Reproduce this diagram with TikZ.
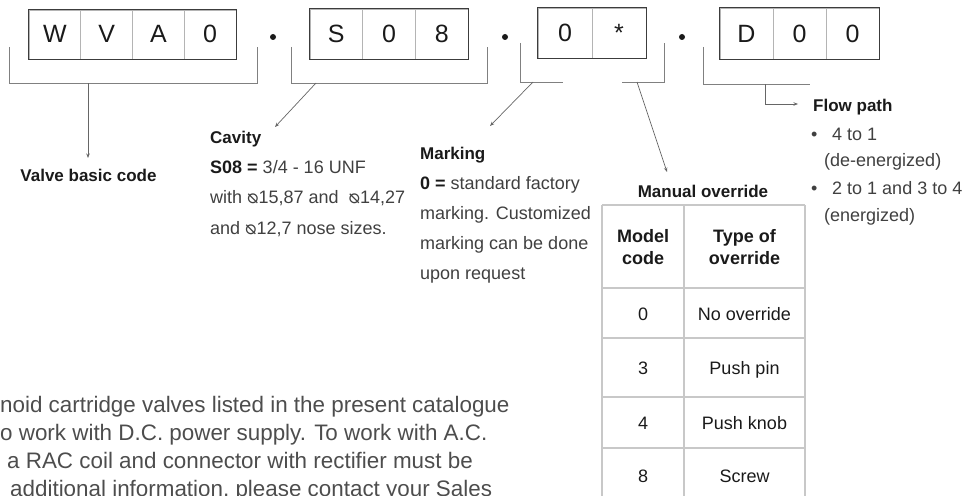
\documentclass[tikz,border=0pt]{standalone}
\usepackage{fontspec}
\usepackage{graphicx}
\setmainfont{Liberation Sans}
\newfontfamily\symf{DejaVu Sans}
\usetikzlibrary{arrows.meta}
\definecolor{ink}{HTML}{1A1A1A}
\definecolor{bodyc}{HTML}{404040}
\definecolor{divg}{HTML}{B4B4B4}
\definecolor{brk}{HTML}{808080}
\definecolor{tbl}{HTML}{C8C8C8}
\definecolor{parac}{HTML}{4D4D4D}
\newcommand{\dia}{{\symf\scalebox{-1.05}[1.05]{⌀}}}
\tikzset{
  cell/.style={rectangle, draw=divg, line width=0.8pt, inner sep=0pt,
    text height=17pt, text depth=0pt, font=\fontsize{25}{25}\selectfont, text=ink},
  boxborder/.style={draw=ink!85, line width=1.4pt},
  bracket/.style={draw=brk, line width=0.9pt},
  pointer/.style={draw=brk!80!black, line width=0.7pt, -{Stealth[length=4.5pt,width=3.5pt]}},
  head/.style={font=\fontsize{17}{17}\selectfont\bfseries, text=ink, inner sep=0pt, anchor=base west},
  txt/.style={font=\fontsize{18}{18}\selectfont, text=bodyc, inner sep=0pt, anchor=base west},
  tcell/.style={font=\fontsize{18}{18}\selectfont, text=ink, inner sep=0pt, anchor=base},
  thead/.style={font=\fontsize{18}{18}\selectfont\bfseries, text=ink, inner sep=0pt, anchor=base},
  ptxt/.style={font=\fontsize{22.4}{22.4}\selectfont, text=parac, inner sep=0pt, anchor=base west},
  dotmark/.style={circle, fill=ink, inner sep=0pt, minimum size=6pt},
  tline/.style={draw=tbl, line width=1.3pt}
}
\begin{document}
\begin{tikzpicture}[x=1pt,y=-1pt]
\useasboundingbox (0,0) rectangle (965,495);

% ---- code boxes ----
\begin{scope}[every node/.append style={minimum width=51.75pt, minimum height=49pt}]
\node[cell] (c11) at (54.9,34.5) {W};
\node[cell] (c12) at (106.6,34.5) {V};
\node[cell] (c13) at (158.4,34.5) {A};
\node[cell] (c14) at (210.1,34.5) {0};
\end{scope}
\draw[boxborder] (c11.north west) rectangle (c14.south east);

\begin{scope}[every node/.append style={minimum width=52.67pt, minimum height=50pt}]
\node[cell] (c21) at (336.3,34) {S};
\node[cell] (c22) at (389,34) {0};
\node[cell] (c23) at (441.7,34) {8};
\end{scope}
\draw[boxborder] (c21.north west) rectangle (c23.south east);

\begin{scope}[every node/.append style={minimum width=54pt, minimum height=50pt}]
\node[cell] (c31) at (565,33) {0};
\node[cell] (c32) at (619,33) {*};
\end{scope}
\draw[boxborder] (c31.north west) rectangle (c32.south east);

\begin{scope}[every node/.append style={minimum width=53pt, minimum height=51pt}]
\node[cell] (c41) at (746.5,33.5) {D};
\node[cell] (c42) at (799.5,33.5) {0};
\node[cell] (c43) at (852.5,33.5) {0};
\end{scope}
\draw[boxborder] (c41.north west) rectangle (c43.south east);

\node[dotmark] (d1) at (273,37) {};
\node[dotmark] (d2) at (505,37) {};
\node[dotmark] (d3) at (682,37) {};

% ---- brackets ----
\coordinate (b1a) at (9,47); \coordinate (b1b) at (9,83);
\coordinate (b1c) at (257,83); \coordinate (b1d) at (257,47);
\coordinate (b1m) at (88,83);
\draw[bracket] (b1a) -- (b1b) -- (b1c) -- (b1d);

\coordinate (b2a) at (291,47); \coordinate (b2b) at (291,83);
\coordinate (b2c) at (487,83); \coordinate (b2d) at (487,47);
\coordinate (b2m) at (316,83);
\draw[bracket] (b2a) -- (b2b) -- (b2c) -- (b2d);

\coordinate (b3a) at (520,43); \coordinate (b3b) at (520,82);
\coordinate (b3c) at (563,82);
\coordinate (b3e) at (622,82); \coordinate (b3f) at (664,82);
\coordinate (b3g) at (664,43);
\coordinate (b3m) at (533,82); \coordinate (b3n) at (637,82);
\draw[bracket] (b3a) -- (b3b) -- (b3c);
\draw[bracket] (b3e) -- (b3f) -- (b3g);

\coordinate (b4a) at (703,47); \coordinate (b4b) at (703,84);
\coordinate (b4c) at (810,84); \coordinate (b4m) at (765,84);
\coordinate (b4k) at (765,104);
\draw[bracket] (b4a) -- (b4b) -- (b4c);

% ---- labels ----
\node[head, anchor=base] (vbc) at (88.5,181) {Valve basic code};
\coordinate (vbctip) at (88,158);
\draw[pointer] (b1m) -- (vbctip);

\node[head] (cav) at (210,143) {Cavity};
\coordinate (cavtip) at (275,127);
\draw[pointer] (b2m) -- (cavtip);
\node[txt] (cav1) at (210,173) {{\bfseries\color{ink}S08 =} 3/4 - 16 UNF};
\node[txt] (cav2) at (210,203) {with \dia15,87 and\ \ \dia14,27};
\node[txt] (cav3) at (210,234) {and \dia12,7 nose sizes.};

\node[head] (mrk) at (420,159) {Marking};
\coordinate (mrktip) at (490,126);
\draw[pointer] (b3m) -- (mrktip);
\node[txt] (mrk1) at (420,189) {{\bfseries\color{ink}0 =} standard factory};
\node[txt] (mrk2) at (420,219) {marking. Customized};
\node[txt] (mrk3) at (420,249) {marking can be done};
\node[txt] (mrk4) at (420,279) {upon request};

\node[head, anchor=base] (man) at (703,197) {Manual override};
\coordinate (mantip) at (667,172);
\draw[pointer] (b3n) -- (mantip);

\node[head] (flw) at (813,111) {Flow path};
\coordinate (flwtip) at (798,104);
\draw[pointer] (b4m) -- (b4k) -- (flwtip);
\node[txt] (fb1) at (811,140) {•};
\node[txt] (f1) at (832,140) {4 to 1};
\node[txt] (f2) at (824,166) {(de-energized)};
\node[txt] (fb2) at (811,194) {•};
\node[txt] (f3) at (832,194) {2 to 1 and 3 to 4};
\node[txt] (f4) at (824,221) {(energized)};

% ---- table ----
\draw[tline] (602,205) -- (805,205);
\draw[tline] (602,288) -- (805,288);
\draw[tline] (602,338) -- (805,338);
\draw[tline] (602,397) -- (805,397);
\draw[tline] (602,448) -- (805,448);
\draw[tline] (602,205) -- (602,496);
\draw[tline] (684,205) -- (684,496);
\draw[tline] (805,205) -- (805,496);

\node[thead] (h1a) at (643,242) {Model};
\node[thead] (h1b) at (643,264) {code};
\node[thead] (h2a) at (744.5,242) {Type of};
\node[thead] (h2b) at (744.5,264) {override};
\node[tcell] (r0a) at (643,320) {0};
\node[tcell] (r0b) at (744.5,320) {No override};
\node[tcell] (r3a) at (643,374) {3};
\node[tcell] (r3b) at (744.5,374) {Push pin};
\node[tcell] (r4a) at (643,429) {4};
\node[tcell] (r4b) at (744.5,429) {Push knob};
\node[tcell] (r8a) at (643,482) {8};
\node[tcell] (r8b) at (744.5,482) {Screw};

% ---- bottom paragraph ----
\node[ptxt] (p1) at (0,412) {noid cartridge valves listed in the present catalogue};
\node[ptxt] (p2) at (0,440) {o work with D.C. power supply. To work with A.C.};
\node[ptxt] (p3) at (7,468) {a RAC coil and connector with rectifier must be};
\node[ptxt] (p4) at (10,496) {additional information, please contact your Sales};
\end{tikzpicture}
\end{document}
